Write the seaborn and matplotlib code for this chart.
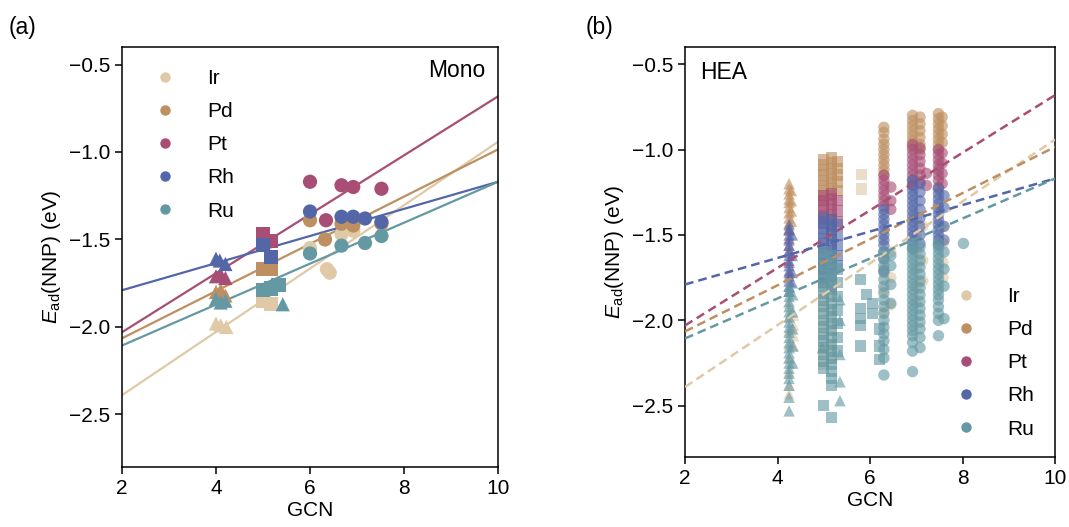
import matplotlib
matplotlib.use("Agg")
import matplotlib.pyplot as plt
from matplotlib.lines import Line2D
import numpy as np
import pandas as pd
import seaborn as sns

# ---------------------------------------------------------------- data
METALS = ["Ir", "Pd", "Pt", "Rh", "Ru"]
COLORS = ["#e0c9a6", "#be8f60", "#a84e75", "#5367a8", "#6499a3"]

# linear scaling lines E_ad = slope * GCN + intercept
FIT_SLOPE = [0.181, 0.135, 0.1685, 0.0775, 0.117]
FIT_INTERCEPT = [-2.752, -2.335, -2.367, -1.945, -2.340]
FIT_GCN_RANGE = [2.0, 10.0]

# monometallic surfaces
MONO_METAL = (["Ir"] * 10 + ["Pd"] * 10 + ["Pt"] * 10 + ["Rh"] * 10 + ["Ru"] * 11)
MONO_SITE = (["^"] * 3 + ["s"] * 2 + ["o"] * 5) * 4 + ["^"] * 3 + ["s"] * 3 + ["^"] + ["o"] * 4
MONO_GCN = [
    # Ir
    4.00, 4.10, 4.22, 5.00, 5.17, 6.00, 6.36, 6.42, 6.67, 6.92,
    # Pd
    4.00, 4.10, 4.20, 5.00, 5.17, 6.00, 6.32, 6.67, 6.92, 7.52,
    # Pt
    4.00, 4.10, 4.20, 5.00, 5.17, 6.00, 6.34, 6.67, 6.92, 7.52,
    # Rh
    4.00, 4.08, 4.20, 5.00, 5.17, 6.00, 6.67, 6.92, 7.17, 7.52,
    # Ru
    4.00, 4.10, 4.20, 5.00, 5.17, 5.33, 5.42, 6.00, 6.67, 7.17, 7.52,
]
MONO_EAD = [
    -1.98, -1.99, -2.00, -1.85, -1.87, -1.55, -1.67, -1.69, -1.47, -1.45,
    -1.80, -1.79, -1.82, -1.67, -1.67, -1.39, -1.50, -1.41, -1.42, -1.41,
    -1.71, -1.70, -1.72, -1.47, -1.51, -1.17, -1.39, -1.19, -1.20, -1.21,
    -1.61, -1.62, -1.64, -1.53, -1.60, -1.34, -1.37, -1.37, -1.38, -1.40,
    -1.84, -1.86, -1.85, -1.79, -1.78, -1.76, -1.87, -1.58, -1.535, -1.52, -1.48,
]

# high-entropy alloy surfaces: (GCN, site marker, E_ad values)
HEA_IR = [
    (4.25, "^", [-1.90, -1.98, -2.06, -2.14, -2.22, -2.30, -2.38, -2.43]),
    (4.35, "^", [-1.97, -2.03, -2.09, -2.15]),
    (5.00, "s", [-1.78, -1.86, -1.94, -2.02, -2.10, -2.18, -2.26]),
    (5.17, "s", [-1.75, -1.85, -1.95, -2.05, -2.15, -2.22]),
    (5.82, "s", [-1.145, -1.23]),
    (6.30, "o", [-1.70, -1.82, -1.95]),
    (6.45, "o", [-1.60, -1.75, -1.91]),
    (7.00, "o", [-1.40, -1.50, -1.60, -1.70, -1.80, -1.90]),
    (7.14, "o", [-1.45, -1.65, -1.77]),
    (7.58, "o", [-1.45, -1.55, -1.66, -1.75]),
]
HEA_PD = [
    (4.25, "^", [-1.20, -1.23, -1.26, -1.29, -1.31, -1.34, -1.37, -1.40, -1.43, -1.46]),
    (4.30, "^", [-1.24, -1.30, -1.36, -1.42]),
    (5.00, "s", [-1.06, -1.09, -1.12, -1.15, -1.18, -1.21, -1.24, -1.27, -1.30]),
    (5.17, "s", [-1.05, -1.08, -1.11, -1.14, -1.17, -1.20, -1.23, -1.27]),
    (5.30, "s", [-1.07, -1.11, -1.15, -1.19, -1.24]),
    (6.30, "o", [-0.87, -0.90, -0.94, -0.97, -1.00, -1.03, -1.06, -1.09, -1.12, -1.15]),
    (6.92, "o", [-0.80, -0.83, -0.86, -0.89, -0.92, -0.95, -0.98]),
    (7.08, "o", [-0.81, -0.85, -0.89, -0.93, -0.97, -1.00]),
    (7.48, "o", [-0.79, -0.82, -0.85, -0.88, -0.91, -0.94, -0.97, -1.00]),
    (7.56, "o", [-0.81, -0.86, -0.91, -0.96]),
]
HEA_PT = [
    (4.25, "^", [-1.47, -1.52, -1.56, -1.60, -1.66, -1.72]),
    (5.00, "s", [-1.27, -1.30, -1.33, -1.36, -1.39, -1.42]),
    (5.17, "s", [-1.26, -1.29, -1.32, -1.35, -1.38, -1.41, -1.45]),
    (5.30, "s", [-1.30, -1.36, -1.42]),
    (6.30, "o", [-1.15, -1.18, -1.21, -1.24, -1.27, -1.30, -1.33]),
    (6.45, "o", [-1.22, -1.30, -1.35]),
    (6.92, "o", [-0.97, -1.00, -1.03, -1.06, -1.09, -1.12, -1.15, -1.18, -1.21]),
    (7.08, "o", [-0.99, -1.03, -1.07, -1.11, -1.15, -1.19]),
    (7.22, "o", [-1.14, -1.21]),
    (7.48, "o", [-1.00, -1.03, -1.06, -1.09, -1.12, -1.15, -1.18, -1.22]),
    (7.56, "o", [-1.02, -1.08, -1.14, -1.20]),
]
HEA_RH = [
    (4.25, "^", [-1.44, -1.47, -1.50, -1.53, -1.56, -1.59, -1.62, -1.65, -1.68, -1.71,
                 -1.74, -1.77, -1.80, -1.83]),
    (4.32, "^", [-1.50, -1.62, -1.72, -1.78]),
    (5.00, "s", [-1.40, -1.43, -1.46, -1.49, -1.52, -1.55, -1.58, -1.61, -1.64, -1.67,
                 -1.70, -1.74, -1.78]),
    (5.17, "s", [-1.41, -1.44, -1.47, -1.50, -1.53, -1.56, -1.59, -1.62, -1.65, -1.69,
                 -1.73, -1.80]),
    (5.30, "s", [-1.44, -1.50, -1.56, -1.62, -1.68]),
    (6.30, "o", [-1.35, -1.38, -1.41, -1.44, -1.47, -1.50, -1.53, -1.56, -1.60, -1.64, -1.71]),
    (6.92, "o", [-1.18, -1.21, -1.24, -1.27, -1.30, -1.33, -1.36, -1.39, -1.42, -1.45,
                 -1.48, -1.51, -1.54, -1.58]),
    (7.08, "o", [-1.20, -1.25, -1.30, -1.35, -1.40, -1.45, -1.50, -1.55]),
    (7.48, "o", [-1.23, -1.26, -1.29, -1.32, -1.35, -1.38, -1.41, -1.44, -1.47, -1.50,
                 -1.53, -1.56]),
    (7.60, "o", [-1.27, -1.34, -1.45, -1.53]),
]
HEA_RU = [
    (4.25, "^", [-1.80, -1.83, -1.86, -1.89, -1.92, -1.95, -1.98, -2.01, -2.04, -2.07,
                 -2.10, -2.13, -2.16, -2.19, -2.22, -2.25, -2.28, -2.31, -2.34, -2.38,
                 -2.45, -2.53]),
    (4.33, "^", [-1.85, -1.95, -2.05, -2.15, -2.25]),
    (5.00, "s", [-1.60, -1.64, -1.68, -1.72, -1.76, -1.80, -1.84, -1.88, -1.92, -1.96,
                 -2.00, -2.04, -2.08, -2.12, -2.16, -2.20, -2.24, -2.28, -2.50]),
    (5.17, "s", [-1.62, -1.66, -1.70, -1.74, -1.78, -1.82, -1.86, -1.90, -1.94, -1.98,
                 -2.02, -2.06, -2.10, -2.14, -2.18, -2.22, -2.26, -2.30, -2.34, -2.38,
                 -2.57]),
    (5.30, "s", [-1.70, -1.78, -1.86, -1.94, -2.02, -2.10, -2.18]),
    (4.97, "^", [-2.16]),
    (5.35, "^", [-1.88, -2.00, -2.20, -2.36, -2.47]),
    (5.80, "s", [-1.76, -1.93, -1.99, -2.03, -2.15]),
    (5.92, "s", [-1.85]),
    (6.05, "s", [-1.90, -1.96]),
    (6.20, "s", [-2.05, -2.15, -2.23]),
    (6.30, "o", [-1.60, -1.64, -1.68, -1.72, -1.76, -1.80, -1.84, -1.88, -1.92, -1.96,
                 -2.00, -2.04, -2.08, -2.12, -2.17, -2.22, -2.32]),
    (6.45, "o", [-1.62, -1.68, -1.79, -1.90]),
    (6.92, "o", [-1.55, -1.58, -1.61, -1.64, -1.67, -1.70, -1.73, -1.76, -1.79, -1.82,
                 -1.85, -1.88, -1.91, -1.94, -1.97, -2.00, -2.03, -2.06, -2.09, -2.13,
                 -2.18, -2.30]),
    (7.08, "o", [-1.57, -1.61, -1.65, -1.69, -1.73, -1.77, -1.81, -1.85, -1.89, -1.93,
                 -1.97, -2.01, -2.05, -2.10, -2.16]),
    (7.48, "o", [-1.55, -1.58, -1.61, -1.64, -1.67, -1.70, -1.73, -1.76, -1.79, -1.82,
                 -1.85, -1.88, -1.92, -1.96, -2.00, -2.09]),
    (7.60, "o", [-1.60, -1.70, -1.80, -1.99]),
    (8.02, "o", [-1.55]),
]

X_TICKS = [2, 4, 6, 8, 10]
Y_TICKS = [-2.5, -2.0, -1.5, -1.0, -0.5]

# ---------------------------------------------------------------- frames
mono = pd.DataFrame({"metal": MONO_METAL, "site": MONO_SITE,
                     "GCN": MONO_GCN, "Ead": MONO_EAD})

rows = []
for metal, groups in zip(METALS, [HEA_IR, HEA_PD, HEA_PT, HEA_RH, HEA_RU]):
    for gcn, site, values in groups:
        for v in values:
            rows.append((metal, site, gcn, v))
hea = pd.DataFrame(rows, columns=["metal", "site", "GCN", "Ead"])

fit_rows = []
for metal, a, b in zip(METALS, FIT_SLOPE, FIT_INTERCEPT):
    for g in FIT_GCN_RANGE:
        fit_rows.append((metal, g, a * g + b))
fits = pd.DataFrame(fit_rows, columns=["metal", "GCN", "Ead"])

palette = dict(zip(METALS, COLORS))
site_markers = {"^": "^", "s": "s", "o": "o"}

# ---------------------------------------------------------------- style
sns.set_style("ticks")
plt.rcParams["font.family"] = ["Liberation Sans", "DejaVu Sans"]
plt.rcParams["mathtext.fontset"] = "custom"
plt.rcParams["mathtext.rm"] = "Liberation Sans"
plt.rcParams["mathtext.it"] = "Liberation Sans:italic"
for key in ("text.color", "axes.labelcolor", "xtick.color", "ytick.color",
            "axes.edgecolor"):
    plt.rcParams[key] = "black"
plt.rcParams["axes.linewidth"] = 1.1

fig = plt.figure(figsize=(10.69, 5.27), dpi=100)
ax_a = fig.add_axes([0.1141, 0.1139, 0.3518, 0.7969])
ax_b = fig.add_axes([0.6408, 0.1328, 0.3461, 0.7780])

# ---------------------------------------------------------------- (a) Mono
sns.lineplot(data=fits, x="GCN", y="Ead", hue="metal", palette=palette,
             hue_order=METALS, linewidth=1.6, legend=False, ax=ax_a)
sns.scatterplot(data=mono, x="GCN", y="Ead", hue="metal", style="site",
                palette=palette, hue_order=METALS, markers=site_markers,
                s=105, linewidth=0, alpha=1.0, legend=False, ax=ax_a, zorder=3)

# ---------------------------------------------------------------- (b) HEA
sns.scatterplot(data=hea, x="GCN", y="Ead", hue="metal", style="site",
                palette=palette, hue_order=METALS, markers=site_markers,
                s=68, linewidth=0, alpha=0.62, legend=False, ax=ax_b)
sns.lineplot(data=fits, x="GCN", y="Ead", hue="metal", palette=palette,
             hue_order=METALS, linewidth=1.8, legend=False, ax=ax_b)
for ln in ax_b.get_lines():
    ln.set_dashes((3.5, 2.0))
    ln.set_zorder(4)

handles = [Line2D([], [], marker="o", linestyle="none", markersize=7.5,
                  markerfacecolor=c, markeredgewidth=0, color=c) for c in COLORS]

for ax, tag in ((ax_a, "Mono"), (ax_b, "HEA")):
    ax.set_xlim(2, 10)
    ax.set_ylim(-2.8, -0.4)
    ax.set_xticks(X_TICKS)
    ax.set_yticks(Y_TICKS)
    ax.tick_params(labelsize=15, length=5, width=1.1, color="black",
                   labelcolor="black")
    ax.set_xlabel("GCN", fontsize=15, labelpad=2)
    ax.set_ylabel(r"$E_{\mathrm{ad}}$(NNP) (eV)", fontsize=15, labelpad=4)
    for sp in ax.spines.values():
        sp.set_visible(True)
        sp.set_color("black")

ax_a.text(0.965, 0.943, "Mono", transform=ax_a.transAxes, ha="right", va="center",
          fontsize=16.5)
ax_b.text(0.04, 0.939, "HEA", transform=ax_b.transAxes, ha="left", va="center",
          fontsize=16.5)

leg_kw = dict(frameon=False, fontsize=15, handlelength=1.0, handletextpad=1.5,
              labelspacing=0.68, borderpad=0, borderaxespad=0)
ax_a.legend(handles, METALS, loc="upper left", bbox_to_anchor=(0.088, 0.948), **leg_kw)
ax_b.legend(handles, METALS, loc="lower left", bbox_to_anchor=(0.73, 0.045), **leg_kw)

fig.text(0.008, 0.947, "(a)", fontsize=16.5, ha="left", va="center")
fig.text(0.548, 0.947, "(b)", fontsize=16.5, ha="left", va="center")

fig.savefig("out.png", dpi=100)
